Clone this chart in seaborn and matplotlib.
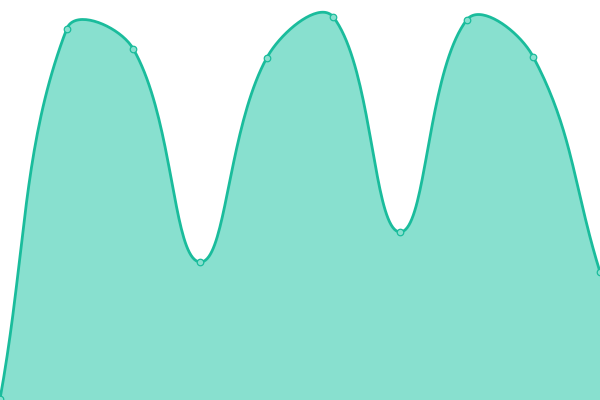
import numpy as np
import pandas as pd
import matplotlib
matplotlib.use("Agg")
import matplotlib.pyplot as plt
import seaborn as sns

# data (y axis 0..400)
categories = list(range(10))
values = [1, 371, 351, 138, 342, 383, 168, 380, 343, 128]

LINE = "#1abc9c"
FILL = "#88e0cf"
TENSION = 0.4
STEP = 600 / 9  # pixels between categories, y units are pixels too


def spline_path(xs, ys, n=40):
    # tension-based bezier smoothing, done in pixel space
    px = np.asarray(xs, float) * STEP
    py = np.asarray(ys, float)
    k = len(px)
    cp_prev = np.zeros((k, 2))
    cp_next = np.zeros((k, 2))
    for i in range(k):
        p = np.array([px[i], py[i]])
        a = np.array([px[max(i - 1, 0)], py[max(i - 1, 0)]])
        b = np.array([px[min(i + 1, k - 1)], py[min(i + 1, k - 1)]])
        d01 = np.hypot(*(p - a))
        d12 = np.hypot(*(b - p))
        tot = d01 + d12
        s01 = d01 / tot if tot else 0
        s12 = d12 / tot if tot else 0
        cp_prev[i] = p - TENSION * s01 * (b - a)
        cp_next[i] = p + TENSION * s12 * (b - a)
    # keep control points inside the plot area
    cp_prev[:, 1] = np.clip(cp_prev[:, 1], 0, 400)
    cp_next[:, 1] = np.clip(cp_next[:, 1], 0, 400)
    t = np.linspace(0, 1, n, endpoint=False)[:, None]
    out = []
    for i in range(k - 1):
        p0 = np.array([px[i], py[i]])
        p3 = np.array([px[i + 1], py[i + 1]])
        c1, c2 = cp_next[i], cp_prev[i + 1]
        seg = ((1 - t) ** 3 * p0 + 3 * (1 - t) ** 2 * t * c1
               + 3 * (1 - t) * t ** 2 * c2 + t ** 3 * p3)
        out.append(seg)
    out.append(np.array([[px[-1], py[-1]]]))
    out = np.vstack(out)
    return out[:, 0] / STEP, out[:, 1]


sns.set_style("white")
fig = plt.figure(figsize=(6, 4), dpi=100)
ax = fig.add_axes([0, 0, 1, 1])

sx, sy = spline_path(categories, values)
smooth = pd.DataFrame({"x": sx, "y": sy})
points = pd.DataFrame({"x": categories, "y": values})

ax.fill_between(sx, 0, sy, color=FILL, linewidth=0)
sns.lineplot(data=smooth, x="x", y="y", ax=ax, color=LINE, linewidth=2.0,
             sort=False, clip_on=False)
sns.scatterplot(data=points, x="x", y="y", ax=ax, s=22, color=FILL,
                edgecolor=LINE, linewidth=0.9, zorder=5, clip_on=False)

ax.set_xlim(0, 9)
ax.set_ylim(0, 400)
ax.axis("off")

fig.savefig("out.png", dpi=100)
